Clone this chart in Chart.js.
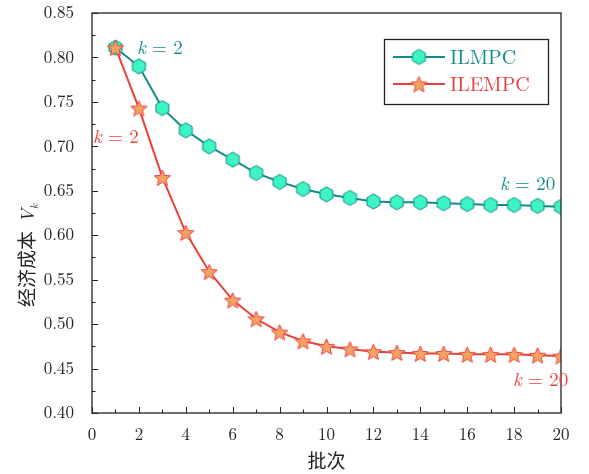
<!DOCTYPE html>
<html>
<head>
<meta charset="utf-8">
<script src="https://cdn.jsdelivr.net/npm/chart.js@4.4.1/dist/chart.umd.min.js"></script>
<style>
  html, body { margin: 0; padding: 0; background: #fff; }
  #wrap { width: 589px; height: 474px; }
</style>
</head>
<body>
<div id="wrap"><canvas id="costChart" width="589" height="474"></canvas></div>
<script>
// 批次
const batches = [1, 2, 3, 4, 5, 6, 7, 8, 9, 10, 11, 12, 13, 14, 15, 16, 17, 18, 19, 20];
// 经济成本
const ilmpc  = [0.811, 0.790, 0.743, 0.718, 0.700, 0.685, 0.670, 0.660, 0.652, 0.646,
                0.642, 0.638, 0.637, 0.637, 0.636, 0.635, 0.634, 0.634, 0.633, 0.632];
const ilempc = [0.811, 0.743, 0.665, 0.603, 0.559, 0.527, 0.506, 0.491, 0.481, 0.475,
                0.472, 0.469, 0.468, 0.467, 0.467, 0.466, 0.466, 0.466, 0.465, 0.464];
const xTicks = [0, 2, 4, 6, 8, 10, 12, 14, 16, 18, 20];
const yTicks = [0.40, 0.45, 0.50, 0.55, 0.60, 0.65, 0.70, 0.75, 0.80, 0.85];

const TEAL = '#138c89';
const TEAL_FILL = '#3cf5c3';
const RED = '#e8413d';
const RED_FILL = '#f5a263';
const SERIF = '"Latin Modern Roman", "DejaVu Serif", "Liberation Serif", serif';
const CJK = '"Noto Sans CJK SC", sans-serif';

function hexMarker(r) {
    const c = document.createElement('canvas');
    const s = Math.ceil(r * 2 + 4);
    c.width = s; c.height = s;
    const g = c.getContext('2d');
    g.beginPath();
    for (let i = 0; i < 6; i++) {
        const a = Math.PI / 2 + i * Math.PI / 3;
        const px = s / 2 + r * Math.cos(a), py = s / 2 + r * Math.sin(a);
        i ? g.lineTo(px, py) : g.moveTo(px, py);
    }
    g.closePath();
    g.fillStyle = TEAL_FILL; g.fill();
    g.strokeStyle = TEAL; g.lineWidth = 1; g.stroke();
    return c;
}

function starMarker(r) {
    const c = document.createElement('canvas');
    const s = Math.ceil(r * 2 + 4);
    c.width = s; c.height = s;
    const g = c.getContext('2d');
    g.beginPath();
    for (let i = 0; i < 10; i++) {
        const rr = i % 2 ? r * 0.45 : r;
        const a = -Math.PI / 2 + i * Math.PI / 5;
        const px = s / 2 + rr * Math.cos(a), py = s / 2 + 1 + rr * Math.sin(a);
        i ? g.lineTo(px, py) : g.moveTo(px, py);
    }
    g.closePath();
    g.fillStyle = RED_FILL; g.fill();
    g.strokeStyle = RED; g.lineWidth = 1; g.stroke();
    return c;
}

const hex = hexMarker(7.5);
const star = starMarker(8.5);

// frame, inward ticks, axis titles, k labels and legend
const decorations = {
    id: 'decorations',
    afterDraw(chart) {
        const ctx = chart.ctx;
        const a = chart.chartArea;
        const xs = chart.scales.x, ys = chart.scales.y;
        ctx.save();
        ctx.strokeStyle = '#222';
        ctx.lineWidth = 1.3;
        ctx.strokeRect(a.left, a.top, a.right - a.left, a.bottom - a.top);

        ctx.lineWidth = 1;
        ctx.beginPath();
        for (let v = 0; v <= 20; v += 1) {
            const px = Math.round(xs.getPixelForValue(v)) + 0.5;
            const len = v % 2 === 0 ? 6 : 3.5;
            ctx.moveTo(px, a.bottom);
            ctx.lineTo(px, a.bottom - len);
        }
        for (let i = 0; i <= 18; i++) {
            const v = 0.40 + i * 0.025;
            const py = Math.round(ys.getPixelForValue(v)) + 0.5;
            const len = i % 2 === 0 ? 6 : 3.5;
            ctx.moveTo(a.left, py);
            ctx.lineTo(a.left + len, py);
        }
        ctx.stroke();

        // axis titles
        ctx.fillStyle = '#222';
        ctx.font = '19px ' + CJK;
        ctx.textAlign = 'center';
        ctx.textBaseline = 'alphabetic';
        ctx.fillText('批次', (a.left + a.right) / 2, 468);

        ctx.save();
        ctx.translate(34, 255);
        ctx.rotate(-Math.PI / 2);
        ctx.textAlign = 'left';
        ctx.font = '19px ' + CJK;
        const t = '经济成本';
        const tw = ctx.measureText(t).width;
        ctx.font = 'italic 19px ' + SERIF;
        const vw = ctx.measureText('V').width;
        const start = -(tw + 8 + vw + 6) / 2;
        ctx.font = '19px ' + CJK;
        ctx.fillText(t, start, 0);
        ctx.font = 'italic 19px ' + SERIF;
        ctx.fillText('V', start + tw + 8, 0);
        ctx.font = 'italic 11px ' + SERIF;
        ctx.fillText('k', start + tw + 8 + vw, 4);
        ctx.restore();

        // k labels
        function kLabel(text, x, y, color) {
            ctx.fillStyle = color;
            ctx.textAlign = 'left';
            ctx.font = 'italic 19px ' + SERIF;
            ctx.fillText('k', x, y);
            const kw = ctx.measureText('k').width;
            ctx.font = '19px ' + SERIF;
            ctx.fillText(' = ' + text, x + kw, y);
        }
        kLabel('2', 137, 54, TEAL);
        kLabel('2', 93, 143, RED);
        kLabel('20', 500, 190, TEAL);
        kLabel('20', 513, 386, RED);

        // legend
        const lx = 384, ly = 39, lw = 164, lh = 65;
        ctx.fillStyle = '#fff';
        ctx.fillRect(lx, ly, lw, lh);
        ctx.strokeStyle = '#222';
        ctx.lineWidth = 1.3;
        ctx.strokeRect(lx + 0.5, ly + 0.5, lw, lh);
        const rows = [
            { label: 'ILMPC', color: TEAL, img: hex, y: 57 },
            { label: 'ILEMPC', color: RED, img: star, y: 84 }
        ];
        rows.forEach(r => {
            ctx.strokeStyle = r.color;
            ctx.lineWidth = 2;
            ctx.beginPath();
            ctx.moveTo(393, r.y);
            ctx.lineTo(445, r.y);
            ctx.stroke();
            ctx.drawImage(r.img, 419 - r.img.width / 2, r.y - r.img.height / 2);
            ctx.fillStyle = r.color;
            ctx.font = '20px ' + SERIF;
            ctx.textBaseline = 'middle';
            ctx.fillText(r.label, 450, r.y + 1);
            ctx.textBaseline = 'alphabetic';
        });
        ctx.restore();
    }
};

new Chart(document.getElementById('costChart').getContext('2d'), {
    type: 'line',
    data: {
        datasets: [{
            label: 'ILMPC',
            data: batches.map((b, i) => ({ x: b, y: ilmpc[i] })),
            borderColor: TEAL,
            borderWidth: 2,
            pointStyle: hex,
            tension: 0,
            order: 1
        }, {
            label: 'ILEMPC',
            data: batches.map((b, i) => ({ x: b, y: ilempc[i] })),
            borderColor: RED,
            borderWidth: 2,
            pointStyle: star,
            tension: 0,
            order: 0
        }]
    },
    options: {
        responsive: false,
        animation: false,
        layout: { padding: { top: 13, right: 28, left: 0, bottom: 0 } },
        plugins: {
            legend: { display: false },
            tooltip: { enabled: false }
        },
        scales: {
            x: {
                type: 'linear',
                min: 0,
                max: 20,
                afterBuildTicks: s => { s.ticks = xTicks.map(v => ({ value: v })); },
                afterFit: s => { s.height = 61; s.paddingLeft = 0; s.paddingRight = 0; },
                grid: { display: false },
                border: { display: false },
                ticks: {
                    color: '#222',
                    padding: 4,
                    maxRotation: 0,
                    font: { family: SERIF, size: 17 }
                }
            },
            y: {
                min: 0.40,
                max: 0.85,
                afterBuildTicks: s => { s.ticks = yTicks.map(v => ({ value: v })); },
                afterFit: s => { s.width = 92; s.paddingTop = 0; s.paddingBottom = 0; },
                grid: { display: false },
                border: { display: false },
                ticks: {
                    color: '#222',
                    padding: 10,
                    font: { family: SERIF, size: 17 },
                    callback: v => v.toFixed(2)
                }
            }
        }
    },
    plugins: [decorations]
});
</script>
</body>
</html>
